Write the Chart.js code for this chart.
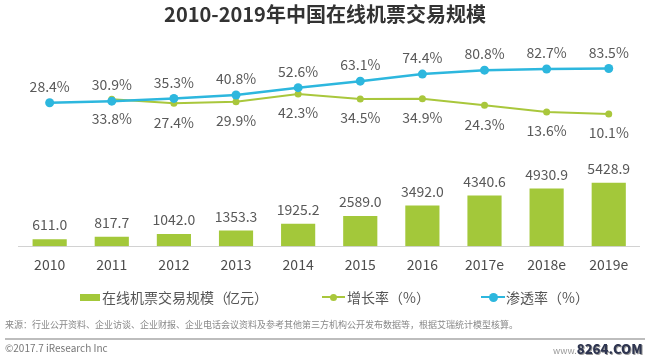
<!DOCTYPE html>
<html><head><meta charset="utf-8">
<script src="https://cdn.jsdelivr.net/npm/chart.js@4"></script>
<style>
body{margin:0;width:650px;height:356px;background:#fff;position:relative;overflow:hidden;font-family:"Noto Sans CJK SC",sans-serif;}
#wrap{position:absolute;left:0;top:0;width:650px;height:356px;}
.t{position:absolute;white-space:nowrap;}
.lg{position:absolute;top:288px;height:18px;line-height:18px;font-size:14px;color:#555;white-space:nowrap;}
.p{letter-spacing:-2px;}
</style></head><body>
<div id="wrap"><canvas id="c" width="650" height="356"></canvas></div>
<div class="t" style="left:0;width:650px;top:1px;text-align:center;font-size:20px;font-weight:bold;color:#333;line-height:26px;">2010-2019年中国在线机票交易规模</div>

<div class="lg" style="left:80px;"><span style="position:absolute;left:0;top:5.5px;width:20px;height:7px;background:#a3c83a;"></span><span style="position:absolute;left:22px;">在线机票交易规模<span class="p">（</span>亿元<span class="p">）</span></span></div>
<div class="lg" style="left:322px;"><span style="position:absolute;left:0;top:8px;width:23px;height:2px;background:#a9c73c;"></span><span style="position:absolute;left:8px;top:5.5px;width:7px;height:7px;border-radius:50%;background:#a9c73c;"></span><span style="position:absolute;left:25px;">增长率（%）</span></div>
<div class="lg" style="left:481px;"><span style="position:absolute;left:0;top:7.5px;width:24px;height:2.5px;background:#2db7de;"></span><span style="position:absolute;left:7.5px;top:4.5px;width:9px;height:9px;border-radius:50%;background:#2db7de;"></span><span style="position:absolute;left:25px;">渗透率（%）</span></div>

<div class="t" style="left:5px;top:319px;font-size:9px;line-height:12px;color:#888;">来源：行业公开资料、企业访谈、企业财报、企业电话会议资料及参考其他第三方机构公开发布数据等，根据艾瑞统计模型核算。</div>
<div style="position:absolute;left:5px;top:338px;width:640px;height:2px;background:#bdbdbd;"></div>
<div class="t" style="left:5px;top:342px;font-size:10px;line-height:12px;color:#777;">©2017.7 iResearch Inc</div>
<div class="t" style="left:553px;top:340px;line-height:14px;"><span style="font-size:9px;color:#999;">www.</span><span style="font-size:13px;font-weight:900;color:#2e3550;text-shadow:1px 1px 0 #999;">8264.COM</span></div>

<script>
const years = ['2010','2011','2012','2013','2014','2015','2016','2017e','2018e','2019e'];
const tradeScale = [611.0, 817.7, 1042.0, 1353.3, 1925.2, 2589.0, 3492.0, 4340.6, 4930.9, 5428.9];
const growthRate = [null, 33.8, 27.4, 29.9, 42.3, 34.5, 34.9, 24.3, 13.6, 10.1];
const penetrationRate = [28.4, 30.9, 35.3, 40.8, 52.6, 63.1, 74.4, 80.8, 82.7, 83.5];

const GREEN_BAR = '#a3c83a', GREEN_LINE = '#a9c73c', BLUE = '#2db7de';
const FONT = '"Noto Sans CJK SC", sans-serif';

const valueLabels = {
  id: 'valueLabels',
  afterDatasetsDraw(chart) {
    const ctx = chart.ctx;
    ctx.save();
    ctx.font = '14px ' + FONT;
    ctx.fillStyle = '#595959';
    ctx.textAlign = 'center';
    ctx.textBaseline = 'middle';
    chart.data.datasets.forEach((ds, i) => {
      const meta = chart.getDatasetMeta(i);
      meta.data.forEach((el, j) => {
        const v = ds.data[j];
        if (v == null) return;
        let txt, y;
        if (ds.type === 'bar') { txt = v.toFixed(1); y = el.y - 14; }
        else if (ds.labelPos === 'below') { txt = v.toFixed(1) + '%'; y = el.y + 19; }
        else { txt = v.toFixed(1) + '%'; y = el.y - 16; }
        ctx.fillText(txt, el.x, y);
      });
    });
    ctx.restore();
  }
};

new Chart(document.getElementById('c'), {
  data: {
    labels: years,
    datasets: [
      { type: 'line', label: '渗透率（%）', data: penetrationRate, yAxisID: 'y2', order: 0,
        borderColor: BLUE, backgroundColor: BLUE, borderWidth: 2.5, pointRadius: 4.5, pointBorderWidth: 0,
        pointBackgroundColor: BLUE, tension: 0, labelPos: 'above' },
      { type: 'line', label: '增长率（%）', data: growthRate, yAxisID: 'y2', order: 1,
        borderColor: GREEN_LINE, backgroundColor: GREEN_LINE, borderWidth: 2, pointRadius: 3.5, pointBorderWidth: 0,
        pointBackgroundColor: GREEN_LINE, tension: 0, labelPos: 'below' },
      { type: 'bar', label: '在线机票交易规模（亿元）', data: tradeScale, yAxisID: 'y', order: 2,
        backgroundColor: GREEN_BAR, barPercentage: 0.55, categoryPercentage: 1 }
    ]
  },
  options: {
    responsive: false,
    animation: false,
    layout: { padding: { left: 18.6, right: 10.2, top: 45, bottom: 72.3 } },
    plugins: { legend: { display: false }, tooltip: { enabled: false }, title: { display: false } },
    scales: {
      x: {
        grid: { display: false, drawTicks: false },
        border: { display: true, color: '#d2d2d2', width: 1 },
        ticks: { padding: 10.3, color: '#4d4d4d', font: { family: FONT, size: 14 } }
      },
      y: { display: false, min: 0, max: 17183 },
      y2: { display: false, min: -202.4, max: 121.2 }
    }
  },
  plugins: [valueLabels]
});
</script>
</body></html>
